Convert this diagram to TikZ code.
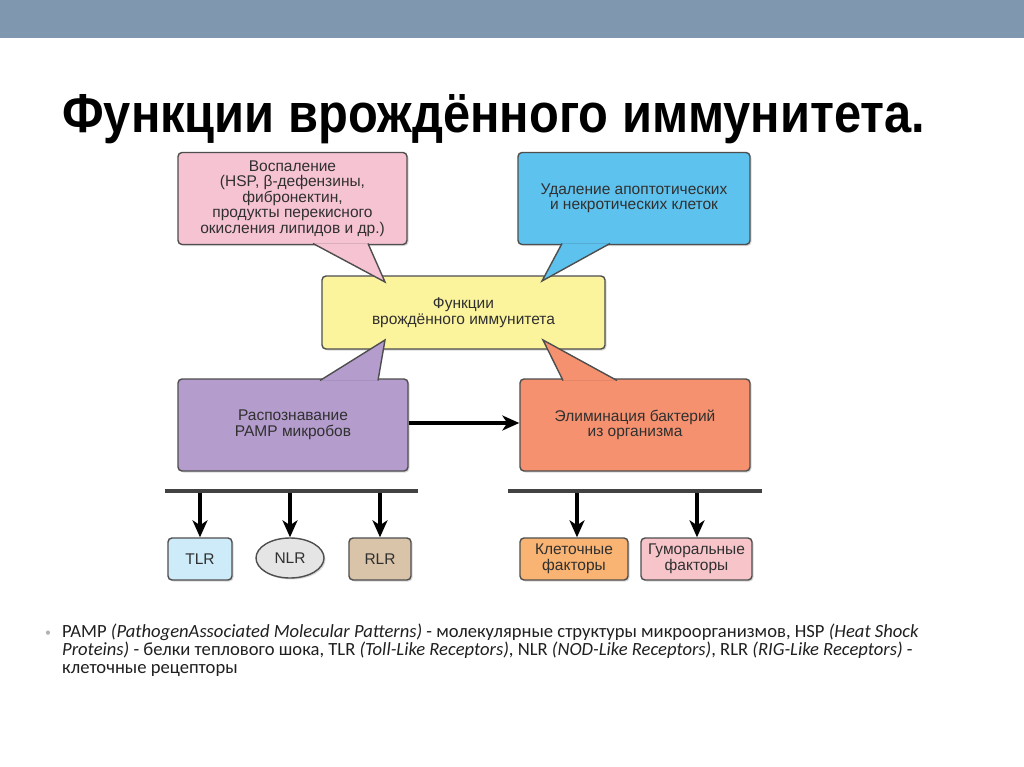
\documentclass[tikz,border=0pt]{standalone}
\usepackage{fontspec}
\setmainfont{Liberation Sans}
\newfontfamily\notefont{Carlito}
\usetikzlibrary{arrows.meta,shadows,shapes.geometric}
\definecolor{topbar}{HTML}{7F98AF}
\definecolor{bordc}{HTML}{4E4E4E}
\definecolor{txt}{HTML}{303030}
\definecolor{notec}{HTML}{202020}
\definecolor{cpink}{HTML}{F6C3D3}
\definecolor{cblue}{HTML}{5EC2EE}
\definecolor{cyellow}{HTML}{FBF49C}
\definecolor{cpurple}{HTML}{B49CCC}
\definecolor{csalmon}{HTML}{F5916F}
\definecolor{ctlr}{HTML}{CDEBF8}
\definecolor{cnlr}{HTML}{E5E5E5}
\definecolor{crlr}{HTML}{D9C4A9}
\definecolor{ccell}{HTML}{F9B372}
\definecolor{chum}{HTML}{F7C5C9}
\newcommand\calltail[4]{%
  \fill[black,opacity=0.28,shift={(1.5,1.5)}] (#2) -- (#3) -- (#4) -- cycle;
  \fill[#1] (#2) -- (#3) -- (#4) -- cycle;
  \draw[bordc,line width=1.4pt,line join=miter] (#2) -- (#3) -- (#4);}
\begin{document}
\begin{tikzpicture}[x=1pt,y=-1pt,
  box/.style={draw=bordc,line width=1.4pt,rounded corners=4pt,align=center,
    font=\fontsize{15.5}{15.5}\selectfont,text=txt,inner sep=0pt,
    drop shadow={shadow xshift=1.5pt,shadow yshift=-1.5pt,opacity=0.3}},
  small/.style={box,font=\fontsize{15.5}{16}\selectfont,minimum height=42pt},
  arr/.style={line width=3.2pt,black,-{Stealth[length=17pt,width=15pt,inset=5pt]}},
  bar/.style={line width=4pt,color=bordc!85!black}]
\useasboundingbox (0,0) rectangle (1024,767);
\fill[white] (0,0) rectangle (1024,767);
\fill[topbar] (0,0) rectangle (1024,38);

\node[anchor=base west,inner sep=0pt] (title) at (62,133)
  {\resizebox{863pt}{38pt}{\bfseries Функции врождённого иммунитета.}};

% main boxes
\node[box,fill=cyellow,minimum width=283pt,minimum height=73pt] (center) at (463.5,312.5)
  {Функции\\врождённого иммунитета};
\node[box,fill=cpink,minimum width=229pt,minimum height=92pt] (pink) at (292.5,198.5)
  {Воспаление\\(HSP, β-дефензины,\\фибронектин,\\продукты перекисного\\окисления липидов и др.)};
\node[box,fill=cblue,minimum width=232pt,minimum height=92pt] (blue) at (634,198.5)
  {Удаление апоптотических\\и некротических клеток};
\node[box,fill=cpurple,minimum width=230pt,minimum height=92pt] (purple) at (293,425)
  {Распознавание\\PAMP микробов};
\node[box,fill=csalmon,minimum width=230pt,minimum height=92pt] (salmon) at (635,425)
  {Элиминация бактерий\\из организма};

% callout tails
\coordinate (pk1) at (313,243.5); \coordinate (pkt) at (385,282); \coordinate (pk2) at (368,243.5);
\coordinate (bl1) at (562,243.5); \coordinate (blt) at (542,281); \coordinate (bl2) at (610,243.5);
\coordinate (pu1) at (320,380.5); \coordinate (put) at (385,340); \coordinate (pu2) at (378,380.5);
\coordinate (sa1) at (563,380.5); \coordinate (sat) at (543,340); \coordinate (sa2) at (617,380.5);
\calltail{cpink}{pk1}{pkt}{pk2}
\calltail{cblue}{bl1}{blt}{bl2}
\calltail{cpurple}{pu1}{put}{pu2}
\calltail{csalmon}{sa1}{sat}{sa2}

\draw[arr] ([yshift=2pt]purple.east) -- ([yshift=2pt]salmon.west);

% bars
\coordinate (la) at (165,491); \coordinate (lb) at (418,491);
\coordinate (ra) at (508,491); \coordinate (rb) at (762,491);
\draw[bar] (la) -- (lb);
\draw[bar] (ra) -- (rb);

% bottom boxes
\node[small,fill=ctlr,minimum width=64pt] (tlr) at (200,559) {TLR};
\node[box,ellipse,fill=cnlr,minimum width=68pt,minimum height=40pt,font=\fontsize{15.5}{16}\selectfont] (nlr) at (290,558) {NLR};
\node[small,fill=crlr,minimum width=62pt] (rlr) at (380,559) {RLR};
\node[small,fill=ccell,minimum width=108pt] (cell) at (574,559) {Клеточные\\факторы};
\node[small,fill=chum,minimum width=111pt] (hum) at (696.5,559) {Гуморальные\\факторы};

\coordinate (d1) at (200,493); \coordinate (d2) at (290,493); \coordinate (d3) at (380,493);
\coordinate (d4) at (577,493); \coordinate (d5) at (697,493);
\draw[arr] (d1) -- (tlr.north);
\draw[arr] (d2) -- (nlr.north);
\draw[arr] (d3) -- (rlr.north);
\draw[arr] (d4) -- (d4 |- cell.north);
\draw[arr] (d5) -- (d5 |- hum.north);

% footnote
\node[anchor=base,inner sep=0pt,text=gray!60] (bullet) at (48,636) {\notefont\fontsize{12}{12}\selectfont •};
\node[anchor=north west,inner sep=0pt,align=left,text=notec,
  font=\notefont\fontsize{18.6}{18}\selectfont] (note) at (62,624)
  {PAMP \textit{(PathogenAssociated Molecular Patterns)} - молекулярные структуры микроорганизмов, HSP \textit{(Heat Shock}\\
   \textit{Proteins)} - белки теплового шока, TLR \textit{(Toll-Like Receptors)}, NLR \textit{(NOD-Like Receptors)}, RLR \textit{(RIG-Like Receptors)} -\\
   клеточные рецепторы};
\end{tikzpicture}
\end{document}
